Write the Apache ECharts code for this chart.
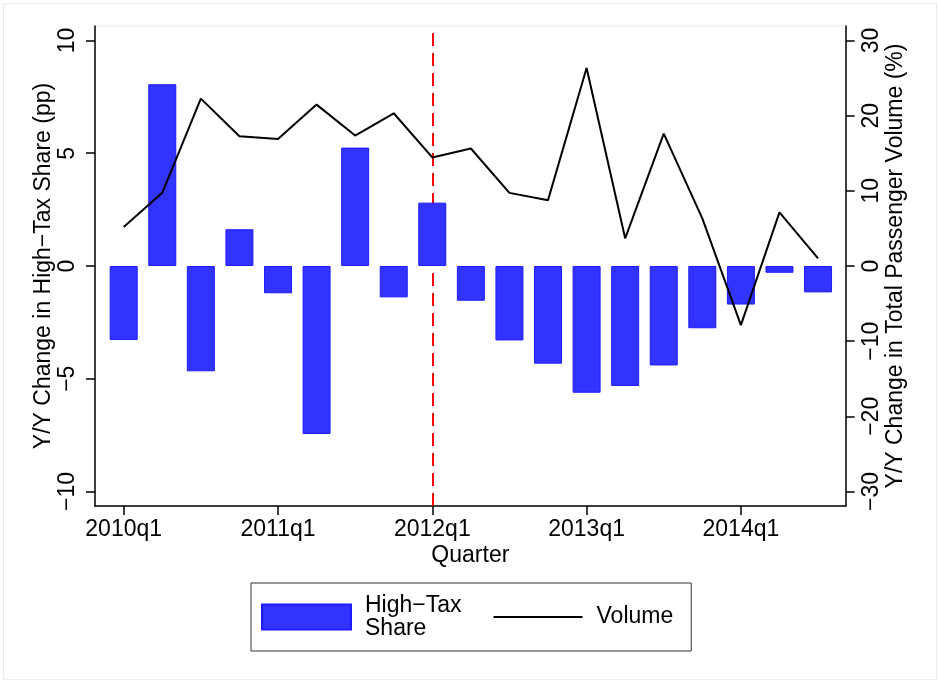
<!DOCTYPE html>
<html>
<head>
<meta charset="utf-8">
<title>High-Tax Share and Passenger Volume</title>
<script src="https://cdn.jsdelivr.net/npm/echarts@6/dist/echarts.min.js"></script>
<style>
  html, body { margin: 0; padding: 0; background: #ffffff; }
  #chart { width: 940px; height: 683px; }
</style>
</head>
<body>
<div id="chart"></div>
<script>
// Quarters on the horizontal axis
const categories = [
  '2010q1', '2010q2', '2010q3', '2010q4',
  '2011q1', '2011q2', '2011q3', '2011q4',
  '2012q1', '2012q2', '2012q3', '2012q4',
  '2013q1', '2013q2', '2013q3', '2013q4',
  '2014q1', '2014q2', '2014q3'
];

// Y/Y change in high-tax share, percentage points (bars, left axis)
const shareChange = [
  -3.28, 8.06, -4.67, 1.63,
  -1.21, -7.45, 5.25, -1.39,
  2.81, -1.54, -3.30, -4.33,
  -5.62, -5.32, -4.41, -2.76,
  -1.71, -0.30, -1.17
];

// Y/Y change in total passenger volume, percent (line, right axis)
const volumeChange = [
  5.18, 9.73, 22.27, 17.26,
  16.90, 21.47, 17.36, 20.32,
  14.44, 15.63, 9.73, 8.76,
  26.33, 3.68, 17.62, 6.33,
  -7.86, 7.13, 1.02
];

// Tick marks
const shareTicks = [-10, -5, 0, 5, 10];
const volumeTicks = [-30, -20, -10, 0, 10, 20, 30];
const quarterTicks = ['2010q1', '2011q1', '2012q1', '2013q1', '2014q1'];
const policyQuarter = '2012q1';

const FONT = "'Liberation Sans', Arial, Helvetica, sans-serif";
const MINUS = '\u2212';
const fmtSigned = v => (v < 0 ? MINUS + Math.abs(v) : String(v));

const quarterIdx = quarterTicks.map(q => categories.indexOf(q));
const barData = shareChange.map((v, i) => [i, v]);
const lineData = volumeChange.map((v, i) => [i, v]);

const axisLineStyle = { color: '#000000', width: 1.5 };

const chart = echarts.init(document.getElementById('chart'), null, { renderer: 'canvas' });

chart.setOption({
  animation: false,
  backgroundColor: '#ffffff',
  textStyle: { fontFamily: FONT },
  graphic: [{
    type: 'rect',
    silent: true,
    z: -10,
    shape: { x: 3.5, y: 3.5, width: 933, height: 676 },
    style: { fill: null, stroke: '#e6eef1', lineWidth: 1.2 }
  }],
  grid: {
    left: 95,
    right: 94.3,
    top: 26,
    bottom: 177,
    show: true,
    backgroundColor: '#ffffff',
    borderColor: '#edf2f5',
    borderWidth: 1.5
  },
  legend: {
    left: 251,
    top: 583,
    orient: 'horizontal',
    padding: [11, 18, 11, 10],
    itemGap: 31,
    itemWidth: 89,
    itemHeight: 25,
    borderColor: '#333333',
    borderWidth: 1,
    backgroundColor: '#ffffff',
    selectedMode: false,
    data: [
      { name: 'High' + MINUS + 'Tax Share', icon: 'rect' },
      { name: 'Volume', itemStyle: { opacity: 0 }, lineStyle: { color: '#000000', width: 2 } }
    ],
    formatter: name => name.replace(' Share', '\nShare'),
    textStyle: {
      fontFamily: FONT,
      fontSize: 23,
      lineHeight: 23,
      color: '#000000',
      padding: [0, 0, 0, 9]
    }
  },
  xAxis: {
    type: 'value',
    min: -0.744,
    max: 18.717,
    name: 'Quarter',
    nameLocation: 'middle',
    nameGap: 38,
    nameMoveOverlap: false,
    nameTextStyle: { fontFamily: FONT, fontSize: 23, color: '#000000' },
    splitLine: { show: false },
    axisLine: { show: true, onZero: false, lineStyle: axisLineStyle },
    axisTick: { show: true, length: 9, customValues: quarterIdx, lineStyle: axisLineStyle },
    axisLabel: {
      customValues: quarterIdx,
      formatter: v => categories[Math.round(v)],
      fontFamily: FONT,
      fontSize: 23,
      color: '#000000',
      margin: 12
    }
  },
  yAxis: [
    {
      type: 'value',
      position: 'left',
      min: -10.643,
      max: 10.643,
      name: 'Y/Y Change in High' + MINUS + 'Tax Share (pp)',
      nameLocation: 'middle',
      nameRotate: 90,
      nameGap: 40,
      nameMoveOverlap: false,
      nameTextStyle: { fontFamily: FONT, fontSize: 23, color: '#000000' },
      splitLine: { show: false },
      axisLine: { show: true, onZero: false, lineStyle: axisLineStyle },
      axisTick: { show: true, length: 9, customValues: shareTicks, lineStyle: axisLineStyle },
      axisLabel: {
        customValues: shareTicks,
        rotate: 90,
        formatter: fmtSigned,
        fontFamily: FONT,
        fontSize: 23,
        color: '#000000',
        margin: 16
      }
    },
    {
      type: 'value',
      position: 'right',
      min: -31.929,
      max: 31.929,
      name: 'Y/Y Change in Total Passenger Volume (%)',
      nameLocation: 'middle',
      nameRotate: 90,
      nameGap: 38,
      nameMoveOverlap: false,
      nameTextStyle: { fontFamily: FONT, fontSize: 23, color: '#000000' },
      splitLine: { show: false },
      axisLine: { show: true, onZero: false, lineStyle: axisLineStyle },
      axisTick: { show: true, length: 9, customValues: volumeTicks, lineStyle: axisLineStyle },
      axisLabel: {
        customValues: volumeTicks,
        rotate: 90,
        formatter: fmtSigned,
        fontFamily: FONT,
        fontSize: 23,
        color: '#000000',
        margin: 14
      }
    }
  ],
  series: [
    {
      name: 'High' + MINUS + 'Tax Share',
      type: 'bar',
      xAxisIndex: 0,
      yAxisIndex: 0,
      data: barData,
      barWidth: 28,
      z: 2,
      itemStyle: { color: '#3333ff', borderColor: '#1c1cff', borderWidth: 1 },
      markLine: {
        z: 1,
        silent: true,
        symbol: ['none', 'none'],
        label: { show: false },
        lineStyle: { color: '#ff0000', width: 2, type: [13, 7] },
        data: [{ xAxis: categories.indexOf(policyQuarter) }]
      }
    },
    {
      name: 'Volume',
      type: 'line',
      xAxisIndex: 0,
      yAxisIndex: 1,
      data: lineData,
      z: 3,
      symbol: 'none',
      showSymbol: false,
      lineStyle: { color: '#000000', width: 2 },
      itemStyle: { color: '#000000' }
    }
  ]
});
</script>
</body>
</html>
